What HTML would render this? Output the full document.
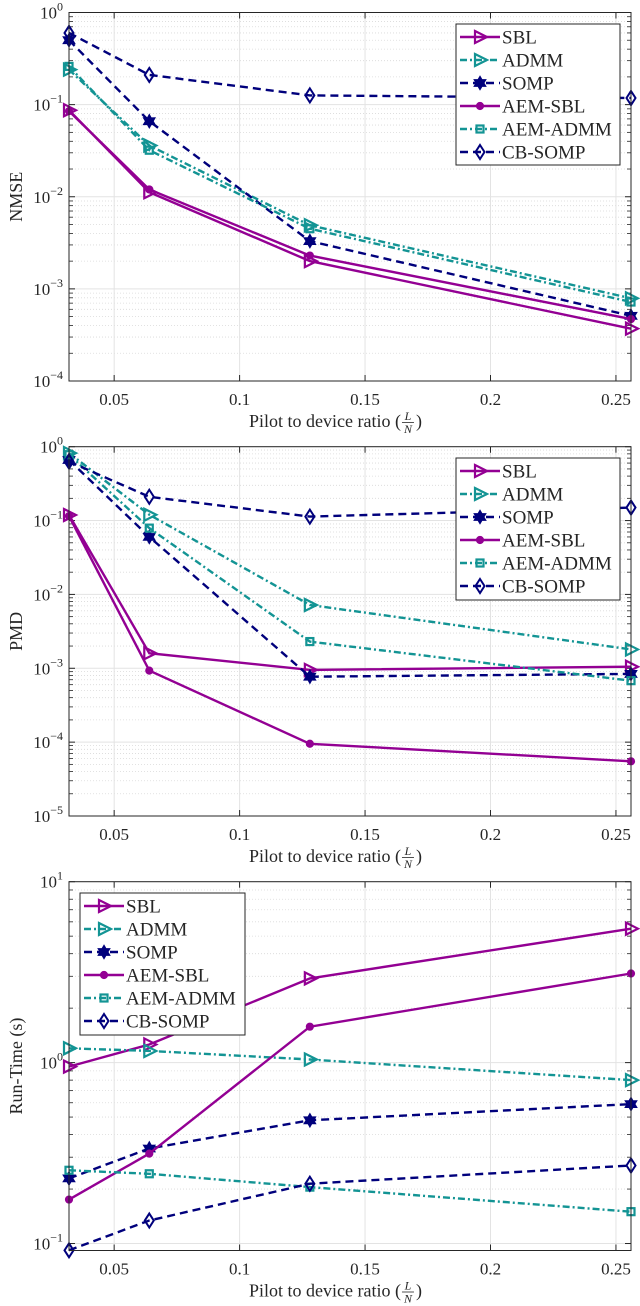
<!DOCTYPE html>
<html><head><meta charset="utf-8"><style>
html,body{margin:0;padding:0;background:#fff}
svg{display:block}
text{font-family:"Liberation Serif",serif;fill:#262626}
</style></head><body>
<svg id="fig" width="640" height="1306" viewBox="0 0 640 1306" xmlns="http://www.w3.org/2000/svg"></svg>
<script>
const xValues=[0.032,0.064,0.128,0.256];
const xTicks=[0.05,0.1,0.15,0.2,0.25];
const xTickLabels=["0.05","0.1","0.15","0.2","0.25"];
const seriesNames=["SBL","ADMM","SOMP","AEM-SBL","AEM-ADMM","CB-SOMP"];
// NMSE panel
const nmseSBL=[0.087,0.0112,0.0020,0.00037];
const nmseADMM=[0.24,0.036,0.0049,0.00079];
const nmseSOMP=[0.50,0.066,0.0033,0.00051];
const nmseAEMSBL=[0.085,0.012,0.0023,0.00047];
const nmseAEMADMM=[0.26,0.032,0.0045,0.00072];
const nmseCBSOMP=[0.60,0.21,0.126,0.118];
// PMD panel
const pmdSBL=[0.119,0.0016,0.00095,0.00105];
const pmdADMM=[0.82,0.12,0.0072,0.0018];
const pmdSOMP=[0.66,0.060,0.00077,0.00084];
const pmdAEMSBL=[0.115,0.00093,0.000095,0.000055];
const pmdAEMADMM=[0.78,0.079,0.0023,0.00068];
const pmdCBSOMP=[0.63,0.21,0.113,0.15];
// Run-time panel
const rtSBL=[0.95,1.26,2.92,5.5];
const rtADMM=[1.2,1.16,1.04,0.8];
const rtSOMP=[0.229,0.335,0.48,0.59];
const rtAEMSBL=[0.175,0.314,1.58,3.11];
const rtAEMADMM=[0.254,0.243,0.205,0.15];
const rtCBSOMP=[0.0917,0.134,0.214,0.27];

const NS="http://www.w3.org/2000/svg";
const svg=document.getElementById('fig');
function mk(tag,attrs,parent){const e=document.createElementNS(NS,tag);for(const k in attrs)e.setAttribute(k,attrs[k]);(parent||svg).appendChild(e);return e;}
const PUR="#930093",TEAL="#139494",NAVY="#00007c";
const styles=[
 {c:PUR,d:"",m:"tri"},{c:TEAL,d:"7,3,2,3",m:"tri"},{c:NAVY,d:"8,5",m:"star"},
 {c:PUR,d:"",m:"circ"},{c:TEAL,d:"7,3,2,3",m:"sq"},{c:NAVY,d:"8,5",m:"dia"}];
const L=69,R=631;
function xs(v){return L+(v-0.032)/(0.256-0.032)*(R-L);}
function marker(g,type,x,y,c){
 let e;
 if(type==="tri"){e=mk('polygon',{points:`${x-5},${y-6} ${x+7},${y} ${x-5},${y+6}`,fill:"none",stroke:c,'stroke-width':2.2},g);}
 else if(type==="circ"){e=mk('circle',{cx:x,cy:y,r:3.6,fill:c,stroke:c},g);}
 else if(type==="sq"){e=mk('rect',{x:x-3.5,y:y-3.5,width:7,height:7,fill:"none",stroke:c,'stroke-width':2.2},g);}
 else if(type==="dia"){e=mk('polygon',{points:`${x},${y-7} ${x+4.5},${y} ${x},${y+7} ${x-4.5},${y}`,fill:"none",stroke:c,'stroke-width':2},g);}
 else {const r=7,r2=4;let p=[];for(let i=0;i<12;i++){const a=-Math.PI/2+i*Math.PI/6;const rr=i%2?r2:r;p.push((x+rr*Math.cos(a)).toFixed(1)+","+(y+rr*Math.sin(a)).toFixed(1));}
  e=mk('polygon',{points:p.join(" "),fill:c,stroke:c,'stroke-width':0.8},g);}
 
 
}
function panel(cfg){
 const {top,bot,dmax,ymin,ylabel,series,legend,name}=cfg;
 const lmax=dmax, lmin=Math.log10(ymin);
 const ys=v=>top+(lmax-Math.log10(v))/(lmax-lmin)*(bot-top);
 const g=mk('g',{});
 
 
 for(let d=Math.floor(lmin);d<lmax;d++){for(let k=2;k<=9;k++){const v=k*Math.pow(10,d);const lv=Math.log10(v);if(lv<lmin||lv>lmax)continue;const y=ys(v);
  mk('line',{x1:L,x2:R,y1:y,y2:y,stroke:"#d9d9d9",'stroke-width':0.8,'stroke-dasharray':"1,2"},g);
  mk('line',{x1:L,x2:L+4,y1:y,y2:y,stroke:"#262626",'stroke-width':0.8},g);
  mk('line',{x1:R,x2:R-4,y1:y,y2:y,stroke:"#262626",'stroke-width':0.8},g);}}
 for(let d=Math.ceil(lmin);d<=lmax;d++){const y=ys(Math.pow(10,d));
  mk('line',{x1:L,x2:R,y1:y,y2:y,stroke:"#e3e3e3",'stroke-width':1},g);
  mk('line',{x1:L,x2:L+6,y1:y,y2:y,stroke:"#262626",'stroke-width':1},g);
  mk('line',{x1:R,x2:R-6,y1:y,y2:y,stroke:"#262626",'stroke-width':1},g);
  const t=mk('text',{x:L-6,y:y+6,'text-anchor':"end",'font-size':17},g);
  
  
  t.textContent="10";const s=mk('tspan',{dy:-8,'font-size':12},t);s.textContent=d<0?"\u2212"+(-d):String(d);}
 xTicks.forEach((v,i)=>{const x=xs(v);
  mk('line',{x1:x,x2:x,y1:top,y2:bot,stroke:"#e3e3e3",'stroke-width':1},g);
  mk('line',{x1:x,x2:x,y1:bot,y2:bot-6,stroke:"#262626",'stroke-width':1},g);
  mk('line',{x1:x,x2:x,y1:top,y2:top+6,stroke:"#262626",'stroke-width':1},g);
  const t=mk('text',{x:x,y:bot+24,'text-anchor':"middle",'font-size':17},g);
  
  
  t.textContent=xTickLabels[i];});
 series.forEach((arr,si)=>{const st=styles[si];
  const sg=mk('g',{},g);
  
  
  const pts=arr.map((v,i)=>xs(xValues[i]).toFixed(1)+","+ys(v).toFixed(1)).join(" ");
  mk('polyline',{points:pts,fill:"none",stroke:st.c,'stroke-width':2.4,'stroke-dasharray':st.d||"none"},sg);
  arr.forEach((v,i)=>marker(sg,st.m,xs(xValues[i]),ys(v),st.c));});
 const b=mk('rect',{x:L,y:top,width:R-L,height:bot-top,fill:"none",stroke:"#262626",'stroke-width':1},g);
 
 
 const yl=mk('text',{x:0,y:0,'text-anchor':"middle",'font-size':18,transform:`translate(22,${(top+bot)/2}) rotate(-90)`},g);
 
 
 yl.textContent=ylabel;
 const xl=mk('text',{x:249,y:bot+46,'font-size':18},g);
 
 
 xl.textContent="Pilot to device ratio (";
 const fx=249+xl.getComputedTextLength()+1;
 const fn=mk('text',{x:fx+6,y:bot+39,'text-anchor':"middle",'font-size':12,'font-style':"italic"},g);fn.textContent="L";
 mk('line',{x1:fx,x2:fx+12,y1:bot+41.5,y2:bot+41.5,stroke:"#262626",'stroke-width':0.8},g);
 const fd=mk('text',{x:fx+6,y:bot+52,'text-anchor':"middle",'font-size':12,'font-style':"italic"},g);fd.textContent="N";
 const cp=mk('text',{x:fx+14,y:bot+46,'font-size':18},g);cp.textContent=")";
 const lg=mk('g',{},g);
 
 
 mk('rect',{x:legend.x,y:legend.y,width:legend.w,height:legend.h,fill:"#fff",stroke:"#262626",'stroke-width':1},lg);
 seriesNames.forEach((n,i)=>{const st=styles[i];const y=legend.y+13+i*23;
  const e=mk('g',{},lg);
  
  
  mk('line',{x1:legend.x+4,x2:legend.x+44,y1:y,y2:y,stroke:st.c,'stroke-width':2.4,'stroke-dasharray':st.d||"none"},e);
  marker(e,st.m,legend.x+24,y,st.c);
  const t=mk('text',{x:legend.x+46,y:y+6.5,'font-size':19,textLength:n.length*11.6>110?112:null},e);
  t.removeAttribute('textLength');
  t.textContent=n;});
}
panel({name:"nmse-chart",top:12.5,bot:381,dmax:0,ymin:1e-4,ylabel:"NMSE",
 series:[nmseSBL,nmseADMM,nmseSOMP,nmseAEMSBL,nmseAEMADMM,nmseCBSOMP],legend:{x:456,y:24,w:164,h:141}});
panel({name:"pmd-chart",top:446.7,bot:816,dmax:0,ymin:1e-5,ylabel:"PMD",
 series:[pmdSBL,pmdADMM,pmdSOMP,pmdAEMSBL,pmdAEMADMM,pmdCBSOMP],legend:{x:456,y:458,w:164,h:142}});
panel({name:"runtime-chart",top:881.7,bot:1250.5,dmax:1,ymin:0.0915,ylabel:"Run-Time (s)",
 series:[rtSBL,rtADMM,rtSOMP,rtAEMSBL,rtAEMADMM,rtCBSOMP],legend:{x:80,y:893,w:165,h:142}});
</script>
</body></html>
